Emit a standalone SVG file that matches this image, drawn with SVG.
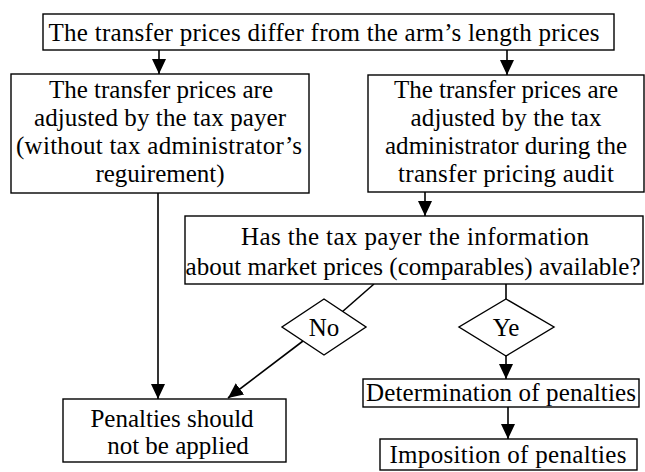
<svg xmlns="http://www.w3.org/2000/svg" width="645" height="472" viewBox="0 0 645 472">
<style>
.box{fill:#fff;stroke:#000;stroke-width:1.4}
.t{font-family:'Liberation Serif','DejaVu Serif',serif;font-size:25px;fill:#000;text-anchor:middle}
.ln{stroke:#000;stroke-width:1.6;fill:none}
</style>
<defs>
<marker id="ah" markerUnits="userSpaceOnUse" markerWidth="16" markerHeight="14" viewBox="0 0 16 14" refX="15" refY="7" orient="auto">
<path d="M0,0 L15,7 L0,14 Z" fill="#000"/>
</marker>
</defs>
<rect width="645" height="472" fill="#fff"/>
<g id="connectors">
<line class="ln" x1="159" y1="50" x2="159" y2="74" marker-end="url(#ah)"/>
<line class="ln" x1="507" y1="50" x2="507" y2="75" marker-end="url(#ah)"/>
<line class="ln" x1="158" y1="193" x2="158" y2="399" marker-end="url(#ah)"/>
<line class="ln" x1="425" y1="192" x2="425" y2="216" marker-end="url(#ah)"/>
<line class="ln" x1="374" y1="284" x2="342" y2="312"/>
<line class="ln" x1="303" y1="341" x2="228" y2="398" marker-end="url(#ah)"/>
<line class="ln" x1="506" y1="284" x2="506" y2="299"/>
<line class="ln" x1="506" y1="356" x2="506" y2="379" marker-end="url(#ah)"/>
<line class="ln" x1="508" y1="407" x2="508" y2="439" marker-end="url(#ah)"/>
</g>
<g id="start">
<rect class="box" x="43" y="14" width="571" height="36"/>
<text class="t" x="324" y="41" textLength="551" lengthAdjust="spacing">The transfer prices differ from the arm’s length prices</text>
</g>
<g id="taxpayer">
<rect class="box" x="11" y="74" width="298" height="119"/>
<text class="t" x="161" y="98" textLength="224" lengthAdjust="spacing">The transfer prices are</text>
<text class="t" x="160" y="126" textLength="252" lengthAdjust="spacing">adjusted by the tax payer</text>
<text class="t" x="159" y="154" textLength="286" lengthAdjust="spacing">(without tax administrator’s</text>
<text class="t" x="160" y="182">reguirement)</text>
</g>
<g id="administrator">
<rect class="box" x="368" y="75" width="276" height="117"/>
<text class="t" x="506" y="98" textLength="224" lengthAdjust="spacing">The transfer prices are</text>
<text class="t" x="506" y="126" textLength="191" lengthAdjust="spacing">adjusted by the tax</text>
<text class="t" x="506" y="154" textLength="242" lengthAdjust="spacing">administrator during the</text>
<text class="t" x="506" y="182" textLength="216" lengthAdjust="spacing">transfer pricing audit</text>
</g>
<g id="question">
<rect class="box" x="185" y="216" width="458" height="68"/>
<text class="t" x="415" y="245" textLength="348" lengthAdjust="spacing">Has the tax payer the information</text>
<text class="t" x="413" y="275" textLength="455" lengthAdjust="spacing">about market prices (comparables) available?</text>
</g>
<g id="no">
<polygon class="box" points="324,299 366,327 324,355 282,327"/>
<text class="t" x="324" y="336">No</text>
</g>
<g id="yes">
<polygon class="box" points="506,299 554,327 506,356 459,327"/>
<text class="t" x="506" y="336">Ye</text>
</g>
<g id="notapplied">
<rect class="box" x="63" y="399" width="223" height="63"/>
<text class="t" x="172" y="427">Penalties should</text>
<text class="t" x="178" y="454">not be applied</text>
</g>
<g id="determination">
<rect class="box" x="363" y="379" width="276" height="28"/>
<text class="t" x="501" y="401" textLength="270" lengthAdjust="spacing">Determination of penalties</text>
</g>
<g id="imposition">
<rect class="box" x="380" y="439" width="257" height="31"/>
<text class="t" x="508" y="463" textLength="237" lengthAdjust="spacing">Imposition of penalties</text>
</g>
</svg>
